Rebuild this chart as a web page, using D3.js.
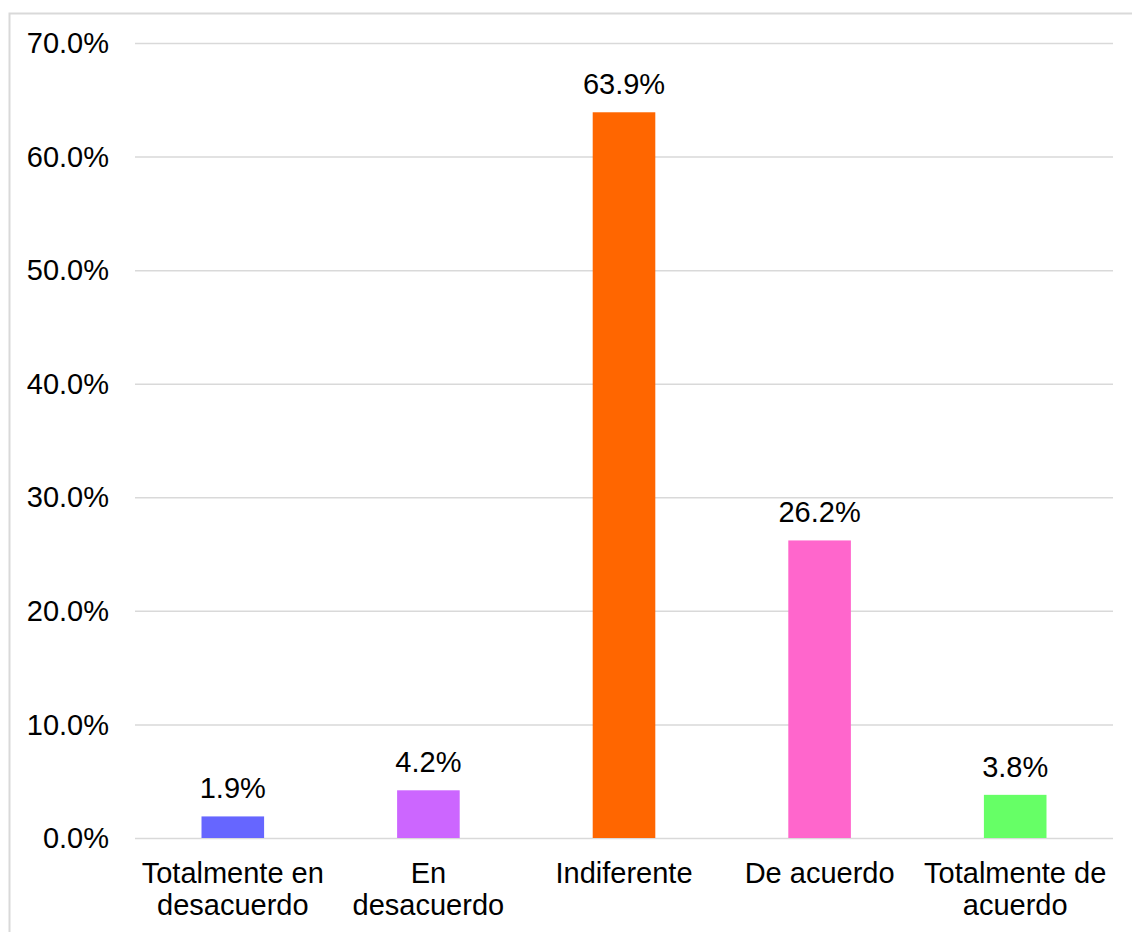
<!DOCTYPE html>
<html>
<head>
<meta charset="utf-8">
<script src="https://cdn.jsdelivr.net/npm/d3@7"></script>
<style>
  body { margin: 0; background: #fff; }
  svg { display: block; font-family: "Liberation Sans", Arial, sans-serif; }
</style>
</head>
<body>
<svg id="chart" width="1132" height="932"></svg>
<script>
// chart data
const categories = [["Totalmente en", "desacuerdo"], ["En", "desacuerdo"], ["Indiferente"], ["De acuerdo"], ["Totalmente de", "acuerdo"]];
const values = [1.9, 4.2, 63.9, 26.2, 3.8];
const colors = ["#6666FF", "#CC66FF", "#FF6600", "#FF66CC", "#66FF66"];
const yTicks = [0, 10, 20, 30, 40, 50, 60, 70];

const svg = d3.select("#chart");
const margin = { left: 135, right: 1113, top: 43, bottom: 838 };
const fontSize = "29px";

// outer frame (runs off the right and bottom edges)
svg.append("rect")
  .attr("x", 9.5).attr("y", 13.5)
  .attr("width", 1140).attr("height", 940)
  .attr("fill", "none")
  .attr("stroke", "#d9d9d9")
  .attr("stroke-width", 2);

const x = d3.scaleBand()
  .domain(d3.range(values.length))
  .range([margin.left, margin.right])
  .paddingInner(0.68).paddingOuter(0.34);

const y = d3.scaleLinear().domain([0, 70]).range([margin.bottom, margin.top]);

// gridlines
svg.append("g")
  .selectAll("line")
  .data(yTicks)
  .enter().append("line")
  .attr("x1", margin.left).attr("x2", margin.right)
  .attr("y1", d => y(d) + 0.5).attr("y2", d => y(d) + 0.5)
  .attr("stroke", "#d9d9d9")
  .attr("stroke-width", 1.5);

// y tick labels
svg.append("g")
  .selectAll("text")
  .data(yTicks)
  .enter().append("text")
  .attr("x", 109)
  .attr("y", d => y(d))
  .attr("dy", "0.35em")
  .attr("text-anchor", "end")
  .style("font-size", fontSize)
  .attr("fill", "#000")
  .text(d => d.toFixed(1) + "%");

// bars
svg.append("g")
  .selectAll("rect")
  .data(values)
  .enter().append("rect")
  .attr("x", (d, i) => x(i))
  .attr("width", x.bandwidth())
  .attr("y", d => y(d))
  .attr("height", d => y(0) - y(d))
  .attr("fill", (d, i) => colors[i]);

// value labels
svg.append("g")
  .selectAll("text")
  .data(values)
  .enter().append("text")
  .attr("x", (d, i) => x(i) + x.bandwidth() / 2)
  .attr("y", d => y(d) - 18)
  .attr("text-anchor", "middle")
  .style("font-size", fontSize)
  .attr("fill", "#000")
  .text(d => d.toFixed(1) + "%");

// category labels
const cat = svg.append("g")
  .selectAll("text")
  .data(categories)
  .enter().append("text")
  .attr("text-anchor", "middle")
  .style("font-size", fontSize)
  .attr("fill", "#000");

cat.each(function (lines, i) {
  const t = d3.select(this);
  lines.forEach((ln, j) => {
    t.append("tspan")
      .attr("x", x(i) + x.bandwidth() / 2)
      .attr("y", 883 + j * 32)
      .text(ln);
  });
});
</script>
</body>
</html>
